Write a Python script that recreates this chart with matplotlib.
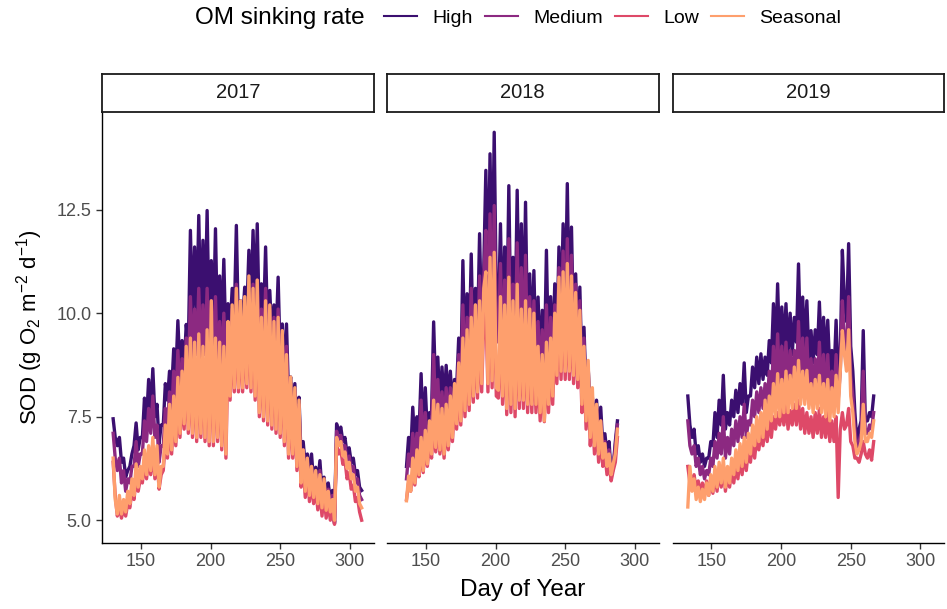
import numpy as np
import matplotlib.pyplot as plt
from matplotlib.lines import Line2D

# facet panels and colour groups
years = ["2017", "2018", "2019"]
rates = ["High", "Medium", "Low", "Seasonal"]
colors = {"High": "#3B0F70", "Medium": "#8C2981", "Low": "#DE4968", "Seasonal": "#FE9F6D"}

# first day of record per year; values are sampled every 1.5 days
first_day = {"2017": 130, "2018": 136, "2019": 133}
step = 1.5

# SOD (g O2 m-2 d-1), two samples per 3-day block
high_2017 = [7.45, 7.0, 6.8, 7.0, 6.4, 6.5, 6.05, 6.2, 6.3, 6.6, 6.8, 7.35, 6.7, 7.0, 7.0, 7.95, 7.4, 8.4, 7.6, 8.66,
             7.5, 7.8, 6.85, 7.3, 7.3, 8.3, 7.9, 8.6, 8.1, 9.14, 8.5, 9.82, 8.6, 9.34, 8.7, 9.73, 9.2, 12.0, 9.8, 11.6,
             9.9, 12.36, 9.7, 11.76, 10.0, 12.48, 9.6, 11.27, 9.7, 12.04, 9.4, 10.9, 9.6, 11.3, 9.2, 10.23, 9.6, 10.6, 9.9, 12.12,
             9.6, 10.3, 9.8, 10.63, 10.0, 11.52, 10.2, 12.0, 10.0, 12.16, 9.7, 10.71, 9.8, 11.6, 9.5, 10.55, 9.4, 10.2, 9.4, 10.87,
             8.9, 9.74, 8.4, 9.74, 8.0, 8.46, 7.6, 8.3, 7.2, 7.97, 6.5, 6.9, 6.3, 6.6, 6.1, 6.6, 5.9, 6.28, 5.9, 6.44,
             5.7, 6.04, 5.6, 5.9, 5.5, 5.72, 4.95, 7.33, 7.1, 7.25, 6.9, 7.0, 6.6, 6.75, 6.4, 6.5, 6.1, 6.2, 5.8, 5.72]
medium_2017 = [7.1, 6.5, 6.2, 6.5, 5.9, 6.2, 5.7, 6.0, 5.9, 6.3, 6.3, 6.9, 6.3, 6.6, 6.6, 7.4, 6.9, 7.7, 7.1, 8.0,
               7.0, 7.3, 6.4, 6.8, 6.8, 7.7, 7.3, 8.1, 7.5, 8.6, 7.8, 9.1, 8.0, 8.9, 8.2, 9.4, 8.4, 10.4, 8.9, 10.1,
               9.0, 10.6, 8.8, 10.2, 9.0, 10.6, 8.8, 10.3, 8.8, 10.4, 8.6, 9.8, 8.7, 10.0, 8.4, 9.7, 9.0, 10.1, 9.3, 10.7,
               9.1, 9.9, 9.2, 10.1, 9.3, 10.5, 9.4, 10.7, 9.2, 10.8, 8.9, 10.1, 8.9, 10.6, 8.7, 10.1, 8.6, 9.9, 8.5, 10.1,
               8.3, 9.5, 7.9, 9.2, 7.5, 8.3, 7.2, 8.1, 6.9, 7.8, 6.2, 6.7, 6.0, 6.4, 5.9, 6.3, 5.75, 6.1, 5.7, 6.2,
               5.55, 5.9, 5.45, 5.75, 5.35, 5.6, 4.92, 7.15, 6.9, 7.05, 6.7, 6.8, 6.4, 6.55, 6.2, 6.3, 5.9, 6.0, 5.6, 5.5]
low_2017 = [6.4, 5.6, 5.1, 5.3, 5.05, 5.3, 5.1, 5.4, 5.3, 5.7, 5.5, 6.0, 5.7, 6.0, 5.9, 6.4, 6.0, 6.5, 6.1, 6.7,
            6.0, 6.5, 5.75, 6.1, 6.2, 6.9, 6.5, 7.3, 6.6, 7.5, 6.8, 7.8, 7.0, 8.0, 7.2, 8.5, 7.1, 8.7, 7.0, 8.6,
            6.9, 8.8, 7.0, 8.6, 6.9, 8.9, 6.8, 9.3, 6.8, 8.8, 6.9, 8.7, 6.7, 8.6, 6.5, 9.0, 7.9, 9.4, 8.1, 9.7,
            8.1, 9.5, 8.1, 9.6, 8.2, 9.9, 8.1, 9.7, 7.9, 9.8, 7.5, 9.1, 7.4, 9.4, 7.3, 9.3, 7.2, 9.0, 7.1, 9.0,
            7.0, 8.8, 6.8, 8.3, 6.5, 7.8, 6.5, 7.6, 6.2, 7.3, 5.8, 6.3, 5.55, 6.1, 5.45, 5.9, 5.4, 5.8, 5.25, 5.7,
            5.1, 5.6, 5.05, 5.4, 5.0, 5.3, 4.9, 6.85, 6.6, 6.7, 6.35, 6.45, 6.0, 6.15, 5.75, 5.85, 5.45, 5.55, 5.2, 5.0]
seasonal_2017 = [6.5, 5.5, 5.15, 5.6, 5.15, 5.5, 5.2, 5.7, 5.4, 6.0, 5.6, 6.36, 5.8, 6.3, 6.0, 6.7, 6.1, 6.8, 6.2, 7.0,
                 6.1, 6.8, 5.8, 6.3, 6.3, 7.3, 6.6, 7.8, 6.7, 8.0, 6.9, 8.45, 7.1, 8.6, 7.33, 9.2, 7.2, 9.4, 7.1, 9.3,
                 7.0, 9.5, 7.1, 9.2, 7.0, 9.6, 6.9, 10.3, 6.9, 9.4, 7.0, 9.3, 6.8, 9.2, 6.6, 9.8, 8.0, 10.2, 8.2, 10.6,
                 8.2, 10.3, 8.2, 10.4, 8.3, 10.9, 8.2, 10.6, 8.0, 10.8, 7.6, 9.9, 7.5, 10.3, 7.4, 10.2, 7.3, 9.8, 7.2, 9.9,
                 7.1, 9.58, 6.9, 9.0, 6.6, 8.46, 6.6, 8.2, 6.3, 7.9, 5.9, 6.7, 5.7, 6.5, 5.6, 6.3, 5.55, 6.2, 5.4, 6.1,
                 5.3, 6.0, 5.24, 5.7, 5.2, 5.5, 5.0, 7.0, 6.8, 6.9, 6.55, 6.65, 6.25, 6.4, 6.0, 6.1, 5.7, 5.8, 5.4, 5.3]

high_2018 = [6.3, 7.0, 6.6, 7.73, 6.8, 7.5, 7.1, 8.54, 7.0, 8.2, 7.1, 7.6, 7.6, 9.79, 8.0, 8.94, 7.7, 8.7, 7.8, 8.74,
             7.9, 8.6, 7.7, 8.4, 8.2, 9.4, 8.4, 11.27, 8.8, 10.47, 9.0, 11.43, 9.0, 10.6, 9.5, 11.92, 9.6, 11.1, 13.45, 10.4,
             13.85, 10.6, 14.37, 10.4, 9.9, 12.16, 9.4, 11.6, 9.6, 13.08, 9.5, 11.35, 9.7, 12.97, 9.9, 12.16, 9.6, 12.68, 9.3, 10.95,
             9.2, 11.03, 8.9, 10.39, 8.8, 10.07, 8.7, 11.52, 8.9, 10.4, 9.0, 10.71, 9.4, 11.6, 9.9, 12.16, 10.0, 13.13, 9.9, 12.08,
             9.5, 10.95, 9.3, 10.63, 8.6, 9.66, 8.0, 8.7, 7.4, 7.97, 7.3, 7.9, 7.1, 7.73, 6.8, 7.09, 6.6, 6.9, 6.1, 6.3,
             6.9, 7.4]
medium_2018 = [6.0, 6.6, 6.3, 7.1, 6.5, 7.1, 6.7, 7.9, 6.7, 7.6, 6.8, 7.3, 7.2, 9.0, 7.5, 8.4, 7.3, 8.1, 7.3, 8.2,
               7.4, 8.2, 7.5, 8.2, 7.9, 9.0, 8.1, 10.2, 8.4, 9.9, 8.6, 10.6, 8.7, 10.2, 9.0, 10.9, 9.1, 10.8, 12.0, 9.4,
               12.4, 9.8, 12.6, 9.6, 9.3, 11.2, 9.0, 10.8, 9.0, 11.8, 9.0, 10.7, 9.1, 11.7, 9.2, 11.1, 9.0, 11.4, 8.8, 10.4,
               8.7, 10.3, 8.5, 9.8, 8.4, 9.6, 8.3, 10.2, 8.5, 9.9, 8.7, 10.2, 9.1, 11.1, 9.4, 11.5, 9.5, 11.8, 9.4, 11.4,
               9.1, 10.7, 8.9, 10.3, 8.2, 9.4, 7.7, 8.7, 7.2, 7.9, 7.0, 7.7, 6.8, 7.4, 6.6, 6.9, 6.4, 6.7, 6.05, 6.25,
               6.8, 7.3]
low_2018 = [5.5, 5.9, 5.7, 6.2, 5.85, 6.4, 6.05, 6.7, 6.15, 6.8, 6.3, 6.9, 6.5, 7.3, 6.65, 7.3, 6.6, 7.2, 6.5, 7.3,
            6.7, 7.5, 6.9, 7.8, 7.2, 8.2, 7.3, 8.7, 7.5, 8.9, 7.65, 9.2, 7.85, 9.4, 7.95, 9.5, 8.1, 9.8, 10.1, 8.1,
            10.4, 8.2, 10.5, 8.0, 7.95, 9.6, 7.8, 9.4, 7.55, 9.9, 7.6, 9.4, 7.5, 9.7, 7.7, 9.3, 7.7, 9.4, 7.6, 9.2,
            7.6, 9.1, 7.6, 8.6, 7.4, 8.4, 7.38, 8.7, 7.6, 8.8, 7.8, 9.3, 8.3, 9.9, 8.4, 10.1, 8.4, 10.2, 8.4, 10.0,
            8.3, 9.7, 8.2, 9.4, 7.6, 8.6, 7.2, 8.2, 6.8, 7.6, 6.6, 7.3, 6.4, 7.0, 6.3, 6.6, 6.1, 6.4, 5.95, 6.2,
            6.4, 7.0]
seasonal_2018 = [5.47, 6.07, 5.7, 6.5, 5.9, 6.7, 6.1, 7.0, 6.2, 7.17, 6.36, 7.4, 6.6, 7.9, 6.76, 7.8, 6.7, 7.7, 6.6, 7.8,
                 6.8, 8.0, 7.0, 8.3, 7.33, 8.8, 7.4, 9.4, 7.65, 9.6, 7.8, 9.9, 8.0, 10.2, 8.1, 10.3, 8.3, 10.6, 11.0, 8.3,
                 11.35, 8.37, 11.47, 8.2, 8.14, 10.4, 8.0, 10.2, 7.7, 10.87, 7.8, 10.3, 7.7, 10.7, 7.9, 10.1, 7.9, 10.3, 7.8, 10.1,
                 7.8, 10.0, 7.8, 9.2, 7.6, 9.0, 7.4, 9.3, 7.8, 9.4, 8.0, 10.0, 8.5, 10.87, 8.6, 11.0, 8.6, 11.2, 8.6, 10.9,
                 8.5, 10.5, 8.4, 10.07, 7.8, 9.2, 7.4, 8.86, 7.0, 8.2, 6.8, 7.8, 6.6, 7.4, 6.5, 6.85, 6.3, 6.6, 6.1, 6.36,
                 6.6, 7.2]

high_2019 = [8.0, 7.3, 7.0, 7.2, 6.6, 6.8, 6.4, 6.6, 6.3, 6.5, 6.5, 6.9, 6.8, 7.6, 7.0, 7.9, 7.3, 8.5, 7.2, 7.6,
             7.3, 7.9, 7.5, 8.14, 7.6, 8.3, 7.8, 8.8, 7.6, 8.0, 8.0, 8.7, 8.2, 8.94, 8.3, 9.02, 8.4, 8.94, 8.5, 9.34,
             8.8, 10.23, 9.0, 10.71, 9.0, 10.15, 9.1, 10.23, 9.0, 10.0, 9.0, 9.9, 9.3, 11.19, 9.2, 10.39, 9.1, 10.3, 8.9, 9.58,
             8.8, 9.6, 9.0, 10.27, 8.9, 9.9, 8.8, 9.83, 8.6, 9.1, 8.5, 9.83, 8.4, 9.0, 11.52, 10.3, 9.8, 11.68, 9.2, 8.6,
             7.6, 6.9, 7.2, 7.4, 9.58, 7.4, 7.4, 7.6, 7.5, 8.0]
medium_2019 = [7.4, 6.8, 6.6, 6.8, 6.3, 6.5, 6.1, 6.3, 6.0, 6.2, 6.1, 6.5, 6.3, 6.9, 6.5, 7.1, 6.6, 7.5, 6.5, 7.0,
               6.6, 7.2, 6.8, 7.4, 6.9, 7.5, 7.0, 7.8, 7.0, 7.4, 7.3, 7.9, 7.5, 8.1, 7.6, 8.2, 7.7, 8.3, 7.8, 8.6,
               8.0, 9.2, 8.2, 9.5, 8.2, 9.2, 8.3, 9.3, 8.2, 9.1, 8.3, 9.1, 8.4, 9.8, 8.4, 9.4, 8.3, 9.4, 8.1, 8.9,
               8.1, 8.9, 8.2, 9.3, 8.1, 9.0, 8.0, 9.0, 7.9, 8.6, 7.9, 9.0, 7.9, 8.6, 10.3, 9.4, 9.0, 10.4, 8.5, 8.0,
               7.2, 6.7, 6.9, 7.1, 8.6, 7.1, 7.1, 7.3, 7.2, 7.6]
low_2019 = [6.3, 5.9, 5.9, 6.1, 5.75, 5.95, 5.65, 5.9, 5.6, 5.95, 5.6, 6.0, 5.65, 6.1, 5.7, 6.2, 5.8, 6.3, 5.7, 6.1,
            5.8, 6.2, 5.9, 6.3, 6.0, 6.5, 6.1, 6.6, 6.2, 6.7, 6.4, 6.9, 6.5, 7.0, 6.7, 7.1, 6.8, 7.3, 6.9, 7.4,
            7.0, 7.5, 7.2, 7.6, 7.3, 7.7, 7.3, 7.8, 7.2, 7.65, 7.3, 7.8, 7.3, 7.9, 7.2, 7.7, 7.1, 7.6, 7.1, 7.5,
            7.0, 7.6, 7.1, 7.7, 7.0, 7.5, 7.0, 7.6, 6.9, 7.4, 6.9, 7.5, 5.55, 7.2, 7.6, 7.2, 7.3, 7.7, 6.9, 6.8,
            6.5, 6.5, 6.4, 6.6, 6.9, 6.6, 6.5, 6.7, 6.45, 6.9]
seasonal_2019 = [5.32, 6.3, 5.7, 6.0, 5.5, 5.8, 5.45, 5.75, 5.5, 5.9, 5.6, 6.1, 5.7, 6.3, 5.8, 6.4, 5.9, 6.5, 5.8, 6.3,
                 5.9, 6.5, 6.1, 6.7, 6.2, 6.85, 6.3, 7.0, 6.4, 7.1, 6.6, 7.3, 6.8, 7.5, 6.9, 7.6, 7.0, 7.9, 7.2, 8.0,
                 7.4, 8.3, 7.5, 8.54, 7.5, 8.4, 7.6, 8.6, 7.6, 8.5, 7.7, 8.7, 7.7, 8.86, 7.8, 8.6, 7.8, 8.62, 7.7, 8.3,
                 7.6, 8.4, 7.7, 8.5, 7.6, 8.3, 7.5, 8.4, 7.4, 8.2, 7.5, 8.5, 7.6, 8.6, 9.58, 9.0, 8.6, 9.6, 8.0, 7.6,
                 6.9, 6.6, 6.7, 6.9, 7.8, 6.9, 6.9, 7.1, 7.0, 7.4]

sod = {
    "2017": {"High": high_2017, "Medium": medium_2017, "Low": low_2017, "Seasonal": seasonal_2017},
    "2018": {"High": high_2018, "Medium": medium_2018, "Low": low_2018, "Seasonal": seasonal_2018},
    "2019": {"High": high_2019, "Medium": medium_2019, "Low": low_2019, "Seasonal": seasonal_2019},
}

x_ticks = [150, 200, 250, 300]
y_ticks = [5.0, 7.5, 10.0, 12.5]

plt.rcParams.update({
    "font.family": ["Liberation Sans", "DejaVu Sans"],
    "mathtext.fontset": "custom",
    "mathtext.rm": "Liberation Sans",
    "mathtext.it": "Liberation Sans:italic",
    "axes.linewidth": 1.0,
})

W, H = 947, 609
fig = plt.figure(figsize=(W / 100, H / 100), dpi=100)

panel_left = [102, 387, 672.5]
panel_w = 271.5
panel_top, panel_bottom = 112, 543
strip_top = 74

for i, year in enumerate(years):
    ax = fig.add_axes([panel_left[i] / W, 1 - panel_bottom / H, panel_w / W, (panel_bottom - panel_top) / H])
    for rate in rates:
        vals = np.asarray(sod[year][rate])
        day = first_day[year] + step * np.arange(len(vals))
        ax.plot(day, vals, color=colors[rate], lw=2.4, solid_joinstyle="round")
    ax.set_xlim(122, 317)
    ax.set_ylim(4.45, 14.86)
    ax.set_xticks(x_ticks)
    ax.set_yticks(y_ticks)
    ax.spines["top"].set_visible(False)
    ax.spines["right"].set_visible(False)
    ax.tick_params(direction="out", length=4, width=1.0, colors="#333333", labelcolor="#4D4D4D", labelsize=13)
    if i == 0:
        ax.set_yticklabels([f"{v:.1f}" for v in y_ticks])
        ax.set_ylabel("SOD (g O$_2$ m$^{-2}$ d$^{-1}$)", fontsize=16, color="black", labelpad=8)
    else:
        ax.spines["left"].set_visible(False)
        ax.tick_params(axis="y", left=False, labelleft=False)

    strip = fig.add_axes([panel_left[i] / W, 1 - panel_top / H, panel_w / W, (panel_top - strip_top) / H])
    strip.set_xticks([])
    strip.set_yticks([])
    for s in strip.spines.values():
        s.set_linewidth(1.3)
        s.set_color("#1A1A1A")
    strip.text(0.5, 0.5, year, ha="center", va="center", fontsize=14.5, color="#1A1A1A", transform=strip.transAxes)

fig.text(523 / W, 1 - 590 / H, "Day of Year", ha="center", va="center", fontsize=17.5)

fig.text(195 / W, 1 - 18 / H, "OM sinking rate", ha="left", va="center", fontsize=17.5)
handles = [Line2D([], [], color=colors[r], lw=1.5) for r in rates]
fig.legend(handles, rates, loc="center left", bbox_to_anchor=(384 / W, 1 - 18 / H), ncol=4, frameon=False,
           fontsize=14, handlelength=1.7, handletextpad=0.8, columnspacing=0.6, borderaxespad=0, borderpad=0)

fig.savefig("out.png", dpi=100)
